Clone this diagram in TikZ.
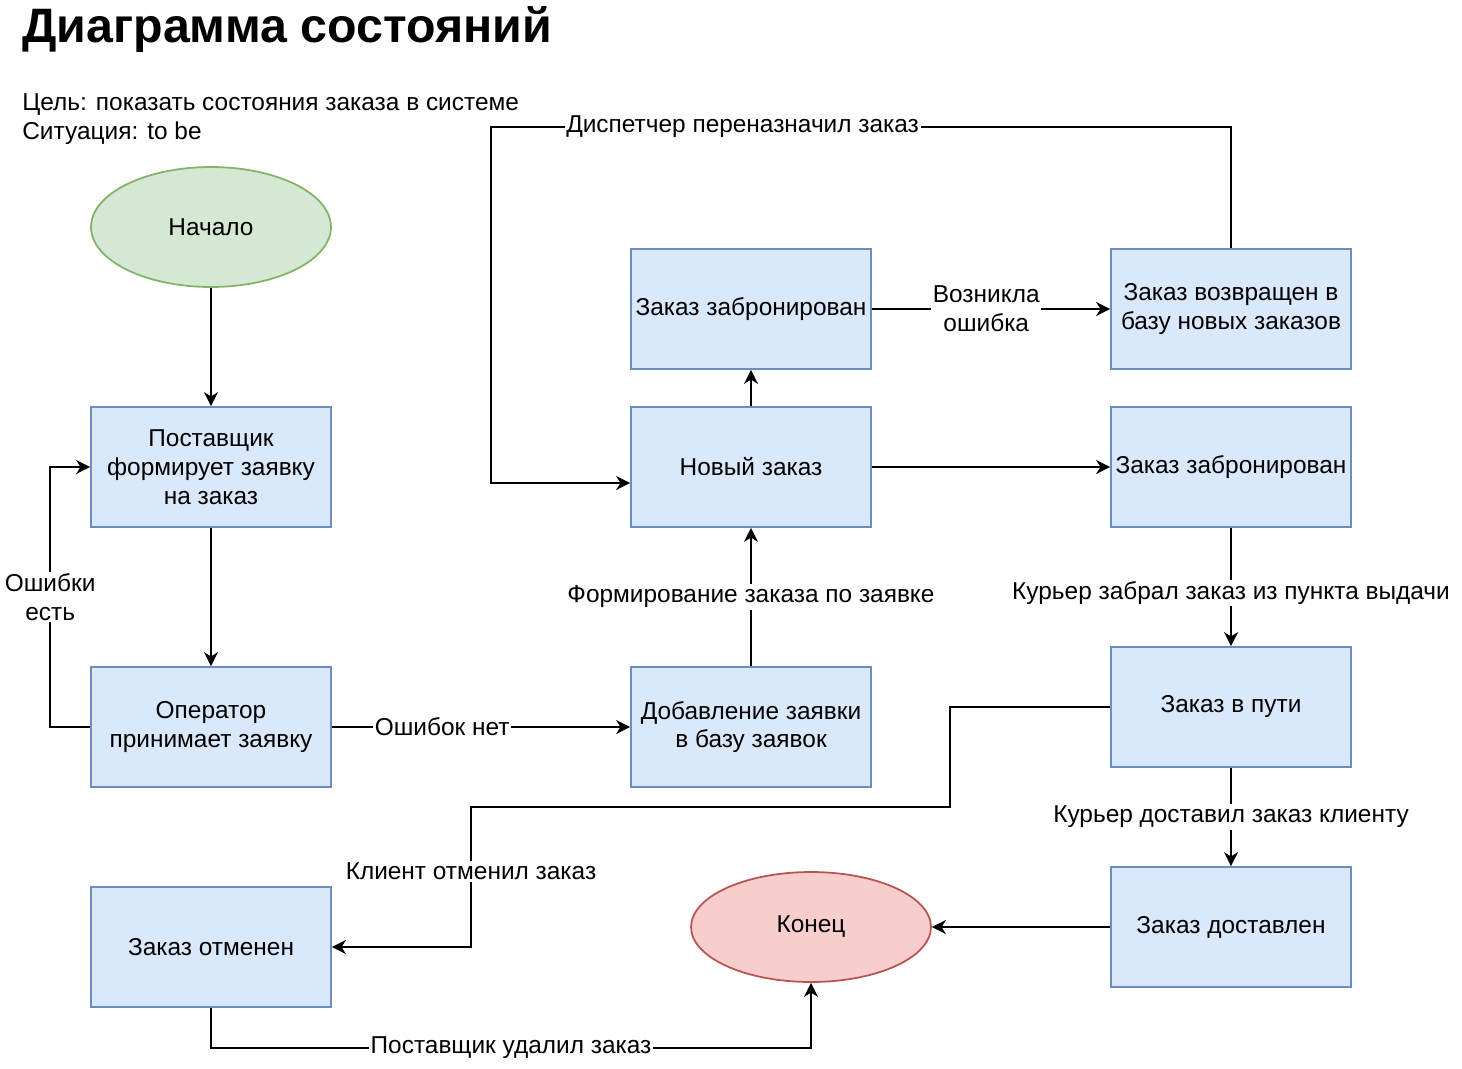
\documentclass[tikz,border=0pt]{standalone}
\usepackage{fontspec}
\setmainfont{Liberation Sans}
\usetikzlibrary{arrows.meta,shapes.geometric}
\definecolor{boxfill}{HTML}{DAE8FC}
\definecolor{boxline}{HTML}{6C8EBF}
\definecolor{startfill}{HTML}{D5E8D4}
\definecolor{startline}{HTML}{82B366}
\definecolor{endfill}{HTML}{F8CECC}
\definecolor{endline}{HTML}{B85450}
\begin{document}
\begin{tikzpicture}[x=0.02cm,y=-0.02cm,
    every node/.style={font=\fontsize{13.9}{16.4}\selectfont},
    state/.style={draw=boxline,fill=boxfill,line width=1pt,minimum width=4.8cm,
      minimum height=2.4cm,align=center,inner sep=1pt},
    startstate/.style={ellipse,draw=startline,fill=startfill,line width=1pt,
      minimum width=4.8cm,minimum height=2.4cm},
    endstate/.style={ellipse,draw=endline,fill=endfill,line width=1pt,
      minimum width=4.8cm,minimum height=2.2cm},
    lbl/.style={fill=white,inner sep=1pt,align=center}]
  \useasboundingbox (0,0) rectangle (1462,1068);
  % title and notes
  \node[anchor=west,inner sep=0,font=\fontsize{27.5}{32}\selectfont\bfseries] (title) at (22,30) {Диаграмма состояний};
  \node[anchor=west,inner sep=0,align=left] (notes) at (22,119) {Цель: показать состояния заказа в системе\\Ситуация: to be};
  % states
  \draw
    (211,227) node[startstate] (start) {Начало}
    (211,467) node[state] (supplier) {Поставщик\\формирует заявку\\на заказ}
    (211,727) node[state] (operator) {Оператор\\принимает заявку}
    (751,727) node[state] (added) {Добавление заявки\\в базу заявок}
    (751,467) node[state] (neworder) {Новый заказ}
    (751,309) node[state] (booked1) {Заказ забронирован}
    (1231,309) node[state] (returned) {Заказ возвращен в\\базу новых заказов}
    (1231,467) node[state] (booked2) {Заказ забронирован}
    (1231,707) node[state] (transit) {Заказ в пути}
    (1231,927) node[state] (delivered) {Заказ доставлен}
    (811,927) node[endstate] (finish) {Конец}
    (211,947) node[state] (cancelled) {Заказ отменен};
  \begin{scope}[-{Stealth[length=8pt,width=8pt,inset=2.5pt]},line width=1.1pt]
    \draw (start) to (supplier);
    \draw (supplier) to (operator);
    \draw (operator.west) -- ++(-40,0) |- node[lbl,pos=0.25] {Ошибки\\есть} (supplier.west);
    \draw (operator) to node[lbl,pos=0.37] {Ошибок нет} (added);
    \draw (added) to node[lbl] {Формирование заказа по заявке} (neworder);
    \draw (neworder) to (booked1);
    \draw (booked1) to node[lbl,pos=0.48] {Возникла\\ошибка} (returned);
    \draw (returned.north) |- node[lbl,pos=0.83] {Диспетчер переназначил заказ} (491,127)
      |- ([yshift=-0.32cm]neworder.west);
    \draw (neworder) to (booked2);
    \draw (booked2) to node[lbl,pos=0.55] {Курьер забрал заказ из пункта выдачи} (transit);
    \draw (transit.west) -- ++(-160,0) |- (471,807) |- node[lbl,pos=0.23] {Клиент отменил заказ} (cancelled.east);
    \draw (transit) to node[lbl] {Курьер доставил заказ клиенту} (delivered);
    \draw (delivered) to (finish);
    \draw (cancelled.south) -- ++(0,40) -| node[lbl,pos=0.25] {Поставщик удалил заказ} (finish.south);
  \end{scope}
\end{tikzpicture}
\end{document}
